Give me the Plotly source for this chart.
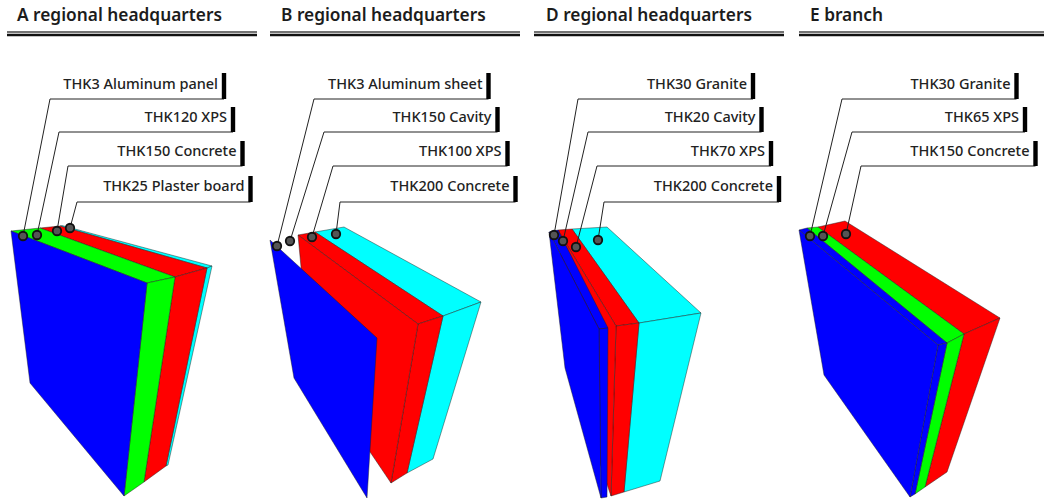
import plotly.graph_objects as go

BLUE, GREEN, RED, CYAN = "#0000ff", "#00ff00", "#ff0000", "#00ffff"
EDGE = "rgba(30,30,30,0.65)"

panel_titles = ["A regional headquarters", "B regional headquarters", "D regional headquarters", "E branch"]
title_x = [17, 281, 546, 810]
rule_x0 = [7, 270, 534, 799]
rule_x1 = [257, 520, 784, 1044]

# callout rows shared by all panels: bar top, bar bottom, text centre
row_top = [73, 107, 141, 176]
row_bottom = [99, 132, 166, 202]
row_text = [84, 117, 151, 186]

labels_a = ["THK3 Aluminum panel", "THK120 XPS", "THK150 Concrete", "THK25 Plaster board"]
bars_a = [224, 233, 242.5, 250.5]
elbow_a = [50, 59, 68, 77]
dots_xa = [23, 37, 57, 70]
dots_ya = [236, 235, 231, 228]

labels_b = ["THK3 Aluminum sheet", "THK150 Cavity", "THK100 XPS", "THK200 Concrete"]
bars_b = [488.5, 497.5, 507.5, 515.5]
elbow_b = [314, 324, 333, 340]
dots_xb = [277, 290, 312, 336]
dots_yb = [246, 241, 237, 234]

labels_d = ["THK30 Granite", "THK20 Cavity", "THK70 XPS", "THK200 Concrete"]
bars_d = [753, 761.5, 771, 779]
elbow_d = [578, 588, 597, 604]
dots_xd = [554, 563, 576, 598]
dots_yd = [235, 241, 247, 240]

labels_e = ["THK30 Granite", "THK65 XPS", "THK150 Concrete"]
bars_e = [1016.5, 1025, 1035.5]
elbow_e = [842, 852, 861]
dots_xe = [810, 823, 846]
dots_ye = [236, 236, 234]

# faces: colour, x vertices, y vertices (back to front)
faces_a = [
    (CYAN, [60, 62, 212, 207], [226, 225.5, 266, 268]),
    (CYAN, [207, 212, 168, 166], [268, 266, 465, 466]),
    (RED, [40, 60, 207, 175], [228, 226, 268, 277]),
    (RED, [175, 207, 166, 144], [277, 268, 466, 482]),
    (GREEN, [11, 40, 175, 147], [231, 228, 277, 283]),
    (GREEN, [147, 175, 144, 124], [283, 277, 482, 496]),
    (BLUE, [11, 147, 124, 30], [231, 283, 496, 383]),
]
faces_b = [
    (CYAN, [315, 344, 481, 443], [232, 227, 302, 316]),
    (CYAN, [443, 481, 433, 407], [316, 302, 459, 473]),
    (RED, [298, 315, 443, 418], [235, 232, 316, 324]),
    (RED, [418, 443, 407, 391], [324, 316, 473, 483]),
    (RED, [298, 418, 391, 310], [235, 324, 483, 363]),
    (BLUE, [270, 377, 367, 294], [240, 338, 498, 378]),
]
faces_d = [
    (CYAN, [572, 607, 701, 639], [229, 227, 313, 323]),
    (CYAN, [639, 701, 660, 624], [323, 313, 481, 492]),
    (RED, [558, 572, 639, 616], [230, 229, 323, 326]),
    (RED, [616, 639, 624, 611], [326, 323, 492, 496]),
    (RED, [558, 616, 611, 575], [230, 326, 496, 390]),
    (BLUE, [549, 558, 608, 599], [232, 230, 328, 329]),
    (BLUE, [599, 608, 607, 601], [329, 328, 497, 498]),
    (BLUE, [549, 599, 601, 565], [232, 329, 498, 368]),
]
faces_e = [
    (RED, [818, 845, 1000, 964], [227, 221, 318, 334]),
    (RED, [964, 1000, 947, 925], [334, 318, 472, 487]),
    (GREEN, [807, 818, 964, 947], [228, 227, 334, 343]),
    (GREEN, [947, 964, 925, 915], [343, 334, 487, 494]),
    (BLUE, [799, 807, 947, 938], [230, 228, 343, 345]),
    (BLUE, [938, 947, 915, 910], [345, 343, 494, 497]),
    (BLUE, [799, 938, 910, 824], [230, 345, 497, 375]),
]

callouts = [
    (labels_a, bars_a, elbow_a, dots_xa, dots_ya),
    (labels_b, bars_b, elbow_b, dots_xb, dots_yb),
    (labels_d, bars_d, elbow_d, dots_xd, dots_yd),
    (labels_e, bars_e, elbow_e, dots_xe, dots_ye),
]

fig = go.Figure()

for faces in (faces_a, faces_b, faces_d, faces_e):
    for colour, xs, ys in faces:
        fig.add_trace(go.Scatter(x=xs + xs[:1], y=ys + ys[:1], mode="lines", fill="toself",
                                 fillcolor=colour, line=dict(color=EDGE, width=0.7), hoverinfo="skip"))

for title, tx, x0, x1 in zip(panel_titles, title_x, rule_x0, rule_x1):
    fig.add_trace(go.Scatter(x=[tx], y=[16.5], mode="text", text=[title], textposition="middle right",
                             textfont=dict(family="Noto Sans", size=17.3, color="#1c1c1c", weight=600)))
    fig.add_trace(go.Scatter(x=[x0, x1], y=[32, 32], mode="lines", line=dict(color="#444444", width=1.3)))
    fig.add_trace(go.Scatter(x=[x0, x1], y=[35, 35], mode="lines", line=dict(color="#111111", width=2.6)))

for labels, bars, elbows, dx, dy in callouts:
    for i, label in enumerate(labels):
        fig.add_trace(go.Scatter(x=[bars[i], elbows[i], dx[i]], y=[row_bottom[i], row_bottom[i], dy[i]],
                                 mode="lines", line=dict(color="#222222", width=1)))
        fig.add_trace(go.Scatter(x=[bars[i], bars[i]], y=[row_top[i], row_bottom[i]], mode="lines",
                                 line=dict(color="#000000", width=4.4)))
        fig.add_trace(go.Scatter(x=[bars[i] - 6], y=[row_text[i] + 1.5], mode="text", text=[label],
                                 textposition="middle left",
                                 textfont=dict(family="Noto Sans", size=14.5, color="#222222", weight=500)))
    fig.add_trace(go.Scatter(x=dx, y=dy, mode="markers",
                             marker=dict(size=8.5, color="#555555", line=dict(color="#111111", width=1.8))))

fig.update_layout(
    width=1044, height=501, margin=dict(l=0, r=0, t=0, b=0), showlegend=False,
    paper_bgcolor="white", plot_bgcolor="white",
    xaxis=dict(range=[0, 1044], visible=False, fixedrange=True),
    yaxis=dict(range=[501, 0], visible=False, fixedrange=True),
)
fig.write_html("out.html", config={"displayModeBar": False},
               post_script="document.body.style.margin='0';document.body.style.overflow='hidden';")
